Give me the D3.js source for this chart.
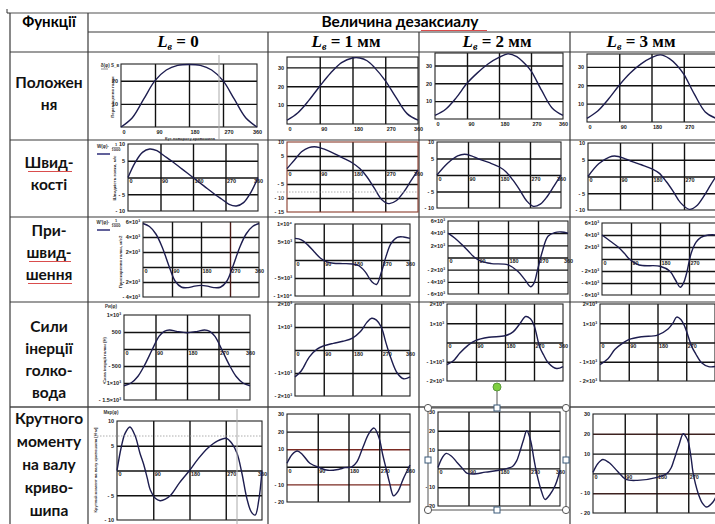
<!DOCTYPE html>
<html><head><meta charset="utf-8">
<script src="https://cdn.jsdelivr.net/npm/d3@7"></script>
<style>body{margin:0;background:#fff} svg{display:block}</style>
</head><body>
<svg id="c" width="715" height="524"></svg>
<script>
// ---------------- DATA ----------------
const rowNames = [["Положен","ня"],["Швид-","кості"],["При-","швид-","шення"],["Сили","інерції","голко-","вода"],["Крутного","моменту","на валу","криво-","шипа"]];
const colNames = ["0","1 мм","2 мм","3 мм"];
const headFunc = "Функції";
const headMain = "Величина дезаксиалу";
const xTicks = [0, 90, 180, 270, 360];

const posTicksL0 = [0, 10, 20];
const posTicks = [0, 10, 20, 30];
const velTicks = [-10, -5, 0, 5, 10];
const velTicksL1 = [-15, -10, -5, 0, 5, 10];
const accTicksL0 = [-4000, -2000, 0, 2000, 4000, 6000];
const accTicksL1 = [-10000, -5000, 0, 5000, 10000];
const accTicks = [-6000, -4000, -2000, 0, 2000, 4000, 6000];
const forceTicksL0 = [-1500, -1000, -500, 0, 500, 1000];
const forceTicks = [-2000, -1000, 0, 1000, 2000];
const torqueTicksL0 = [-10, -5, 0, 5, 10];
const torqueTicks = [-20, -10, 0, 10, 20, 30];

const pos0 = [[0,0],[30,4],[60,12],[90,20],[120,24.6],[150,26.6],[180,27],[210,26.6],[240,24.6],[270,20],[300,12],[330,4],[360,0]];
const pos1 = [[0,2],[30,6],[60,12.5],[90,20],[120,27],[150,32.5],[180,35],[200,35],[220,33.5],[240,30],[270,23],[300,14],[330,5.5],[360,2]];
const pos2 = [[0,2],[30,5.5],[60,12],[90,20],[120,26],[150,31],[180,34.5],[205,36.5],[230,35],[250,31.5],[270,27],[300,16],[330,6],[360,2]];
const pos3 = [[0,2],[30,6],[60,12.5],[90,20],[120,26.5],[150,31.5],[180,35],[205,36.5],[230,34.5],[250,31],[270,26],[300,15],[330,5.5],[360,2]];

const vel0 = [[0,0],[20,4.5],[40,7.5],[60,8.5],[80,8],[100,6.5],[120,5],[150,2.5],[180,0],[210,-2.5],[240,-5],[260,-6.5],[280,-8],[300,-8.5],[320,-7.5],[340,-4.5],[360,0]];
const vel1 = [[0,0.5],[20,3.5],[40,6.5],[60,8],[75,8.3],[90,8],[120,6.5],[150,4.5],[180,2.5],[200,0.5],[220,-2.5],[240,-6.5],[260,-10.5],[280,-12],[300,-11],[320,-8],[340,-4],[360,0]];
const vel2 = [[0,0],[30,3.5],[60,5.8],[80,6.3],[100,5.8],[120,4.9],[150,3.8],[180,2.5],[200,1],[220,-1.5],[240,-4.5],[260,-7.8],[280,-9.5],[300,-8.8],[320,-6.5],[340,-3.3],[360,0]];
const vel3 = [[0,0],[30,3.8],[60,5.8],[75,6.1],[100,5.5],[120,4.6],[150,3.5],[180,2.3],[200,1],[220,-1.5],[240,-4.5],[260,-7.8],[285,-9.8],[305,-8.8],[325,-6],[345,-2.5],[360,0]];

const acc0 = [[0,5800],[20,5400],[40,4400],[60,2600],[80,200],[100,-1900],[120,-2700],[140,-2750],[160,-2550],[180,-2450],[200,-2550],[220,-2750],[240,-2700],[260,-1900],[280,200],[300,2600],[320,4400],[340,5400],[360,5800]];
const acc1 = [[0,6000],[20,5600],[40,4200],[60,2300],[80,500],[100,-500],[120,-900],[150,-1000],[180,-1100],[200,-1600],[220,-3300],[240,-6000],[255,-6800],[270,-3500],[285,1000],[300,4500],[320,6300],[340,6400],[360,6000]];
const acc2 = [[0,4000],[20,3200],[40,2200],[60,1100],[80,0],[100,-650],[130,-1000],[180,-1200],[210,-2300],[230,-3600],[248,-4800],[258,-4200],[268,-2200],[283,1000],[300,3500],[320,4100],[340,4200],[360,4000]];
const acc3 = [[0,4000],[25,3000],[50,2000],[70,900],[85,0],[115,-1000],[180,-1200],[210,-2000],[228,-3500],[243,-4700],[253,-4000],[262,-2500],[277,1000],[292,2800],[307,3600],[330,4000],[360,4000]];

const force0 = [[0,-1080],[20,-1000],[40,-800],[60,-450],[80,-30],[100,370],[115,520],[130,560],[150,520],[180,480],[210,520],[230,560],[245,520],[260,370],[280,-30],[300,-450],[320,-800],[340,-1000],[360,-1080]];
const force1 = [[0,-1170],[20,-900],[45,-300],[70,50],[90,180],[120,290],[150,380],[180,520],[205,800],[225,1200],[240,1380],[255,1300],[270,1000],[285,300],[300,-350],[320,-1000],[340,-1250],[360,-1170]];
const force2 = [[0,-1150],[20,-950],[40,-550],[65,-150],[88,100],[130,270],[180,350],[205,550],[225,950],[244,1350],[258,1250],[270,900],[288,-250],[300,-650],[314,-1050],[340,-1350],[360,-1250]];
const force3 = [[0,-1150],[25,-850],[47,-350],[70,-50],[90,150],[131,300],[180,380],[213,700],[228,1000],[240,1320],[253,1200],[266,800],[287,-200],[300,-600],[318,-1050],[340,-1250],[360,-1250]];

const torque0 = [[0,0],[10,4.5],[20,7.5],[32,8.8],[45,7],[57,3.5],[66,1.3],[75,-1.5],[83,-4],[95,-5.6],[107,-6.1],[120,-5.8],[133,-5],[155,-2.5],[180,0],[200,2.2],[225,4.5],[250,6],[272,6.5],[285,5.5],[298,3.5],[310,-0.5],[322,-5.5],[333,-8.3],[343,-9],[352,-6],[360,0]];
const torque1 = [[0,2],[15,7],[30,9],[45,7],[67,2],[95,-0.5],[120,-2],[150,-1.5],[170,-0.5],[190,0],[205,3],[222,11],[240,19],[255,22],[270,16],[280,7],[290,-1],[300,-9],[312,-16.5],[325,-14],[340,-7],[360,1]];
const torque2 = [[0,0.5],[12,5.5],[24,8],[40,6.5],[57,3],[72,0],[85,-2.5],[104,-3],[140,-2],[180,-1],[205,0],[220,1],[232,4],[240,8],[252,15],[262,20],[273,15],[283,5],[293,-4],[305,-12],[316,-16.5],[330,-14],[346,-9],[360,-1]];
const torque3 = [[0,0.5],[14,5],[28,7],[45,5.5],[70,1],[93,-3],[126,-3.5],[182,-2],[210,0],[222,3],[229,6.5],[243,14],[256,20],[265,18],[270,16],[278,8],[284,0],[298,-10],[310,-15],[322,-17],[335,-15.5],[348,-12],[360,-5]];

// ---------------- LAYOUT ----------------
const colX = [10, 88, 268, 419, 570];
const rowY = [13, 32, 52, 140, 217, 302, 407];
const charts = [
  {d:pos0, t:posTicksL0, dom:[0,27.2], b:[121,257,64,127], xAtBottom:true},
  {d:pos1, t:posTicks, dom:[0,35.5], b:[287,418,57,124], xAtBottom:true},
  {d:pos2, t:posTicks, dom:[0,37], b:[435,563,53,119], xAtBottom:true},
  {d:pos3, t:posTicks, dom:[0,37], b:[587,716,54,122], xAtBottom:true},
  {d:vel0, t:velTicks, dom:[-10,10], b:[128,258,144,211]},
  {d:vel1, t:velTicksL1, dom:[-15,10], b:[287,418,142,212], border:"#8a3b2b"},
  {d:vel2, t:velTicks, dom:[-10,10], b:[437,561,142,208]},
  {d:vel3, t:velTicks, dom:[-10,10], b:[588,716,143,210]},
  {d:acc0, t:accTicksL0, dom:[-4000,6000], b:[143,259,222,297], vRed:270},
  {d:acc1, t:accTicksL1, dom:[-10000,10000], b:[295,410,224,296]},
  {d:acc2, t:accTicks, dom:[-6000,6000], b:[448,568,221,294]},
  {d:acc3, t:accTicks, dom:[-6000,6000], b:[602,718,223,295]},
  {d:force0, t:forceTicksL0, dom:[-1500,1000], b:[124,250,315,400]},
  {d:force1, t:forceTicks, dom:[-2000,2000], b:[295,410,304,396]},
  {d:force2, t:forceTicks, dom:[-2000,2000], b:[447,563,304,381]},
  {d:force3, t:forceTicks, dom:[-2000,2000], b:[600,715,304,381]},
  {d:torque0, t:torqueTicksL0, dom:[-10,10], b:[117,262,421,520]},
  {d:torque1, t:torqueTicks, dom:[-20,30], b:[287,410,414,502], redLines:[10,-10], red:"#7a2a22"},
  {d:torque2, t:torqueTicks, dom:[-20,30], b:[438,560,412,506]},
  {d:torque3, t:torqueTicks, dom:[-20,30], b:[593,720,414,513], redLines:[20,-10], red:"#3e2220"}
];

const svg = d3.select("#c");
const SUP = {"0":"⁰","1":"¹","2":"²","3":"³","4":"⁴","5":"⁵","6":"⁶","7":"⁷","8":"⁸","9":"⁹"};
function fmt(v){
  if (v === 0) return "0";
  const s = v < 0 ? "- " : "";
  const a = Math.abs(v);
  if (a < 1000) return s + a;
  const e = Math.floor(Math.log10(a));
  const m = a / Math.pow(10, e);
  return s + (m % 1 ? m.toFixed(1) : m) + "×10" + String(e).split("").map(c => SUP[c]).join("");
}

// ---------------- TABLE ----------------
const tbl = svg.append("g").attr("stroke", "#3a3a3a").attr("stroke-width", 1.2);
tbl.append("line").attr("x1", colX[0]).attr("x2", 715).attr("y1", rowY[0]).attr("y2", rowY[0]).attr("stroke","#8a8a8a").attr("stroke-width",1.6);
tbl.append("line").attr("x1", colX[1]).attr("x2", 715).attr("y1", rowY[1]).attr("y2", rowY[1]);
rowY.slice(2).forEach(y => tbl.append("line").attr("x1", colX[0]).attr("x2", 715).attr("y1", y).attr("y2", y).attr("stroke", y===407 ? "#777" : "#3a3a3a").attr("stroke-width", y===407?1.8:1.2));
tbl.append("line").attr("x1", colX[0]).attr("x2", colX[0]).attr("y1", rowY[0]).attr("y2", 524);
tbl.append("line").attr("x1", colX[1]).attr("x2", colX[1]).attr("y1", rowY[0]).attr("y2", 524);
colX.slice(2).forEach(x => tbl.append("line").attr("x1", x).attr("x2", x).attr("y1", rowY[1]).attr("y2", 524));
svg.append("path").attr("d","M7,9 L7,13 L10,13").attr("stroke","#333").attr("fill","none");

// header text
const sansB = "Lato, 'Open Sans', sans-serif";
svg.append("text").attr("x", 49).attr("y", 27).attr("text-anchor","middle").attr("font-family",sansB).attr("font-weight","bold").attr("font-size",15).text(headFunc);
svg.append("text").attr("x", 400).attr("y", 27).attr("text-anchor","middle").attr("font-family",sansB).attr("font-weight","bold").attr("font-size",15.5).text(headMain);
function wavy(x0, x1, y){
  let d = "M"+x0+","+y;
  for (let x = x0; x < x1; x += 2) d += " L"+(x+1)+","+(y+1)+" L"+(x+2)+","+y;
  svg.append("path").attr("d", d).attr("stroke","#d02020").attr("stroke-width",0.8).attr("fill","none");
}
wavy(421, 486, 30);

const colCenters = [178, 346, 497, 641];
colNames.forEach((n, i) => {
  const t = svg.append("text").attr("x", colCenters[i]).attr("y", 47).attr("text-anchor","middle")
    .attr("font-family","'Liberation Serif','DejaVu Serif',serif").attr("font-weight","bold").attr("font-size",17);
  t.append("tspan").attr("font-style","italic").text("L");
  t.append("tspan").attr("font-style","italic").attr("font-size",10).attr("dy",3).text("в");
  t.append("tspan").attr("dy",-3).text(" = " + n);
});

// row labels
const rowBase = [[88,110],[168,190],[236,258,280],[332,354,376,398],[424,447,470,493,516]];
rowNames.forEach((lines, r) => {
  lines.forEach((ln, k) => {
    svg.append("text").attr("x", 49).attr("y", rowBase[r][k]).attr("text-anchor","middle")
      .attr("font-family",sansB).attr("font-weight","bold").attr("font-size",15.5).attr("fill","#111").text(ln);
  });
});
wavy(28, 71, 171); wavy(29, 71, 261); wavy(28, 72, 283);

// ---------------- CHARTS ----------------
const lineGen = d3.line().curve(d3.curveCatmullRom.alpha(0.5));
charts.forEach(c => {
  const [x0, x1, y0, y1] = c.b;
  const x = d3.scaleLinear().domain([0, 360]).range([x0, x1]);
  const y = d3.scaleLinear().domain(c.dom).range([y1, y0]);
  const g = svg.append("g");
  const hTicks = c.t.filter(v => v > c.dom[0] && v < c.dom[1]);
  const ga = g.append("g").attr("transform", `translate(${x0},0)`)
    .call(d3.axisLeft(y).tickValues(hTicks).tickSize(-(x1 - x0)).tickFormat(""));
  ga.select(".domain").remove();
  ga.selectAll("line").attr("stroke", d => (c.redLines && c.redLines.includes(d)) ? c.red : "#111").attr("stroke-width", 1.4);
  const gv = g.append("g").attr("transform", `translate(0,${y1})`)
    .call(d3.axisBottom(x).tickValues([90, 180, 270]).tickSize(-(y1 - y0)).tickFormat(""));
  gv.select(".domain").remove();
  gv.selectAll("line").attr("stroke", d => d === c.vRed ? "#4e1c18" : "#111").attr("stroke-width", 1.4);
  g.append("rect").attr("x", x0).attr("y", y0).attr("width", x1 - x0).attr("height", y1 - y0)
    .attr("fill", "none").attr("stroke", c.border || "#222").attr("stroke-width", 1.1);
  const yl = g.append("g").attr("transform", `translate(${x0 - 1},0)`)
    .call(d3.axisLeft(y).tickValues(c.t.filter(v => v !== 0)).tickSize(0).tickPadding(2).tickFormat(fmt));
  yl.select(".domain").remove();
  yl.selectAll("text").attr("font-family","'Liberation Sans',Arial,sans-serif").attr("font-weight","bold").attr("font-size",5.5).attr("fill","#222");
  const xl = g.append("g").attr("transform", `translate(0,${c.xAtBottom ? y1 + 1 : y(0)})`)
    .call(d3.axisBottom(x).tickValues(xTicks.filter(v => x(v) < 711)).tickSize(0).tickPadding(2).tickFormat(d3.format("d")));
  xl.select(".domain").remove();
  xl.selectAll("text").attr("font-family","'Liberation Sans',Arial,sans-serif").attr("font-weight","bold").attr("font-size",5.5).attr("fill","#222")
    .attr("text-anchor", d => d === 360 ? "middle" : "start").attr("dx", d => d === 360 ? 0 : 1);
  g.append("path").attr("d", lineGen(c.d.map(p => [x(p[0]), y(p[1])])))
    .attr("fill", "none").attr("stroke", "#1d1d4f").attr("stroke-width", 1.4);
});

// axis annotations in first column (tiny)
const tiny = (x, y, txt, rot, size) => {
  const t = svg.append("text").attr("x", x).attr("y", y).attr("font-family","'Liberation Sans',Arial,sans-serif")
    .attr("font-weight","bold").attr("font-size", size || 4.5).attr("fill","#333").attr("text-anchor","middle").text(txt);
  if (rot) t.attr("transform", `rotate(-90,${x},${y})`);
};
tiny(110, 67, "δ(φ) S_в", false, 4.5);
svg.append("line").attr("x1",101).attr("x2",108).attr("y1",69).attr("y2",69).attr("stroke","#444").attr("stroke-width",0.6);
tiny(114, 97, "Переміщення голки", true, 4.3);
tiny(190, 139.5, "Кут повороту кривошипа", false, 4);
tiny(103, 148, "W(φ)·", false, 4.5); tiny(116, 146, "1", false, 4); tiny(116, 151, "1000", false, 4);
svg.append("line").attr("x1",112).attr("x2",120).attr("y1",147.5).attr("y2",147.5).attr("stroke","#444").attr("stroke-width",0.5);
svg.append("line").attr("x1",97).attr("x2",110).attr("y1",154).attr("y2",154).attr("stroke","#1d1d6f").attr("stroke-width",1.4);
tiny(116, 178, "Швидкість голки, м/с", true, 4.3);
tiny(103, 224, "W'(φ)·", false, 4.5); tiny(116, 222, "1", false, 4); tiny(116, 227, "1000", false, 4);
svg.append("line").attr("x1",112).attr("x2",120).attr("y1",223.5).attr("y2",223.5).attr("stroke","#444").attr("stroke-width",0.5);
svg.append("line").attr("x1",97).attr("x2",110).attr("y1",230).attr("y2",230).attr("stroke","#1d1d6f").attr("stroke-width",1.4);
tiny(122, 262, "Прискорення голки, м/с2", true, 4.3);
tiny(111, 308, "Pи(φ)", false, 4.5);
tiny(106, 360, "Сила інерції голки (Н)", true, 4.3);
tiny(111, 414, "Mкр(φ)", false, 4.5);
tiny(97, 470, "Крутний момент на валу кривошипа [Н·м]", true, 4.1);

// artefact lines from the source document
svg.append("line").attr("x1",219).attr("x2",219).attr("y1",55).attr("y2",139).attr("stroke","#aaa").attr("stroke-width",1);
svg.append("line").attr("x1",237).attr("x2",237).attr("y1",409).attr("y2",524).attr("stroke","#aaa").attr("stroke-width",1);
svg.append("line").attr("x1",277).attr("x2",418).attr("y1",192).attr("y2",192).attr("stroke","#999").attr("stroke-width",0.8).attr("stroke-dasharray","1.5,1.5");
svg.append("line").attr("x1",97).attr("x2",262).attr("y1",436).attr("y2",436).attr("stroke","#999").attr("stroke-width",0.8).attr("stroke-dasharray","1.5,1.5");

// selection frame around one picture
const sel = svg.append("g").attr("stroke","#555").attr("stroke-width",1);
sel.append("rect").attr("x",428).attr("y",408).attr("width",138).attr("height",102).attr("fill","none");
sel.append("line").attr("x1",497).attr("x2",497).attr("y1",391).attr("y2",405);
[[428,408],[566,408],[428,510],[566,510]].forEach(p => sel.append("circle").attr("cx",p[0]).attr("cy",p[1]).attr("r",3.6).attr("fill","#fff"));
[[497,408],[428,460],[566,460],[497,510]].forEach(p => sel.append("rect").attr("x",p[0]-3).attr("y",p[1]-3).attr("width",6).attr("height",6).attr("fill","#fff").attr("stroke","#3a5a7a"));
sel.append("circle").attr("cx",497).attr("cy",387).attr("r",4).attr("fill","#7fcf3f").attr("stroke","#5a9a3a");
</script></body></html>
